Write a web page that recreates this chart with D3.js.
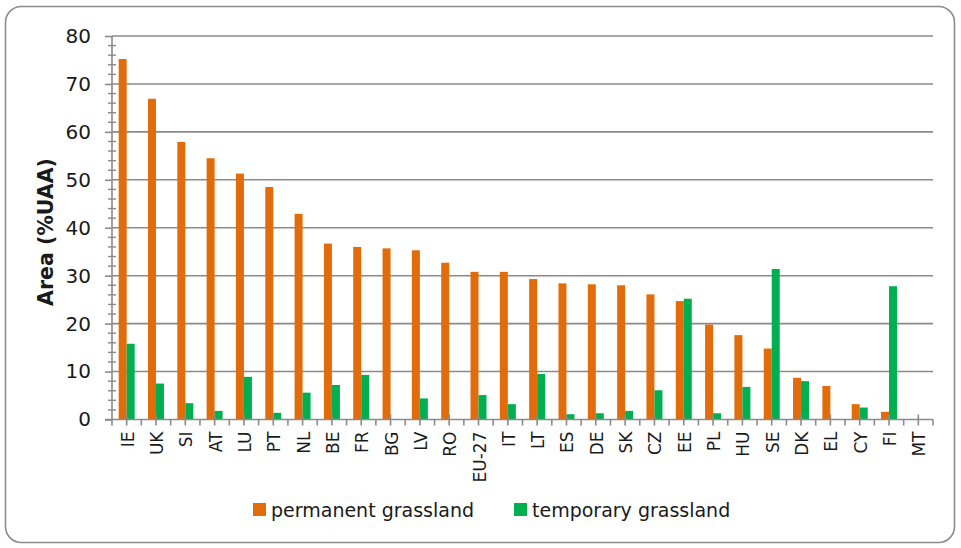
<!DOCTYPE html>
<html>
<head>
<meta charset="utf-8">
<script src="https://d3js.org/d3.v7.min.js"></script>
<style>
  body { margin: 0; background: #fff; }
  text { font-family: "DejaVu Sans", "Open Sans", sans-serif; fill: #1a1a1a; }
</style>
</head>
<body>
<div id="chart"></div>
<script>
// grassland area share per member state
var countries = ["IE","UK","SI","AT","LU","PT","NL","BE","FR","BG","LV","RO","EU-27","IT",
                 "LT","ES","DE","SK","CZ","EE","PL","HU","SE","DK","EL","CY","FI","MT"];
var permanent = [75.2,66.9,57.9,54.5,51.3,48.5,42.9,36.7,36.0,35.7,35.3,32.7,30.8,30.8,
                 29.3,28.4,28.2,28.0,26.1,24.7,19.8,17.6,14.8,8.7,7.0,3.2,1.6,0];
var temporary = [15.8,7.5,3.4,1.8,8.9,1.4,5.6,7.2,9.3,0,4.4,0,5.1,3.2,
                 9.5,1.1,1.3,1.8,6.1,25.2,1.3,6.8,31.4,8.0,0,2.5,27.8,0];
var seriesNames = ["permanent grassland", "temporary grassland"];
var yTicks = [0,10,20,30,40,50,60,70,80];

var W = 961, H = 548;
var margin = {top: 36, right: 28, bottom: 128.5, left: 112};
var width = W - margin.left - margin.right,
    height = H - margin.top - margin.bottom;
var colors = ["#E36C0A", "#00B050"];
var gridColor = "#8a8a8a";

var svg = d3.select("#chart").append("svg")
  .attr("width", W).attr("height", H);

// outer frame
svg.append("rect")
  .attr("x", 5.5).attr("y", 6.5).attr("width", 949).attr("height", 536)
  .attr("rx", 16).attr("ry", 16)
  .attr("fill", "none").attr("stroke", "#8c8c8c").attr("stroke-width", 1.6);

var g = svg.append("g")
  .attr("transform", "translate(" + margin.left + "," + margin.top + ")");

var x = d3.scaleBand().domain(countries).range([0, width]);
var y = d3.scaleLinear().domain([0, 80]).range([height, 0]);

// gridlines
g.selectAll(".grid").data(yTicks.slice(1)).enter().append("line")
  .attr("x1", 0).attr("x2", width)
  .attr("y1", function(d) { return y(d); }).attr("y2", function(d) { return y(d); })
  .attr("stroke", gridColor).attr("stroke-width", 1.6);

// y axis with major + minor ticks
var yAxis = g.append("g")
  .call(d3.axisLeft(y).tickValues(yTicks).tickSize(7).tickPadding(14));
yAxis.select(".domain").remove();
yAxis.selectAll(".tick line").attr("stroke", gridColor).attr("stroke-width", 1.6);
yAxis.selectAll(".tick text").style("font-size", "20px")
  .style("font-family", "DejaVu Sans, sans-serif").attr("fill", "#1a1a1a");

var minor = d3.range(0, 81, 2).filter(function(d) { return d % 10 !== 0; });
g.selectAll(".ymin").data(minor).enter().append("line")
  .attr("x1", -4).attr("x2", 4)
  .attr("y1", function(d) { return y(d); }).attr("y2", function(d) { return y(d); })
  .attr("stroke", gridColor).attr("stroke-width", 1.4);

g.append("line").attr("x1", 0).attr("x2", 0).attr("y1", 0).attr("y2", height)
  .attr("stroke", gridColor).attr("stroke-width", 1.6);

// bars
var barW = 8;
var groups = g.selectAll(".cat").data(countries).enter().append("g")
  .attr("transform", function(d) { return "translate(" + (x(d) + x.bandwidth() / 2) + ",0)"; });

groups.append("rect")
  .attr("x", -barW)
  .attr("width", barW)
  .attr("y", function(d, i) { return y(permanent[i]); })
  .attr("height", function(d, i) { return height - y(permanent[i]); })
  .attr("fill", colors[0]);

groups.append("rect")
  .attr("x", 0)
  .attr("width", barW)
  .attr("y", function(d, i) { return y(temporary[i]); })
  .attr("height", function(d, i) { return height - y(temporary[i]); })
  .attr("fill", colors[1]);

// x axis
g.append("line").attr("x1", -7).attr("x2", width).attr("y1", height).attr("y2", height)
  .attr("stroke", gridColor).attr("stroke-width", 1.6);

var bounds = countries.map(function(d) { return x(d); }).concat([width]);
g.selectAll(".xb").data(bounds).enter().append("line")
  .attr("x1", function(d) { return d; }).attr("x2", function(d) { return d; })
  .attr("y1", height).attr("y2", height + 6)
  .attr("stroke", gridColor).attr("stroke-width", 1.6);
g.selectAll(".xc").data(countries).enter().append("line")
  .attr("x1", function(d) { return x(d) + x.bandwidth() / 2; })
  .attr("x2", function(d) { return x(d) + x.bandwidth() / 2; })
  .attr("y1", height - 5).attr("y2", height + 6)
  .attr("stroke", gridColor).attr("stroke-width", 1.6);

g.selectAll(".xl").data(countries).enter().append("text")
  .attr("transform", function(d) {
    return "translate(" + (x(d) + x.bandwidth() / 2 + 7) + "," + (height + 12) + ") rotate(-90)";
  })
  .attr("text-anchor", "end")
  .style("font-size", "17px")
  .text(function(d) { return d; });

// y axis title
svg.append("text")
  .attr("transform", "translate(53," + 232 + ") rotate(-90)")
  .attr("text-anchor", "middle")
  .style("font-size", "20.5px").style("font-weight", "bold")
  .text("Area (%UAA)");

// legend
var legendX = [253, 514];
var legend = svg.selectAll(".leg").data(seriesNames).enter().append("g")
  .attr("transform", function(d, i) { return "translate(" + legendX[i] + ",503)"; });
legend.append("rect").attr("width", 13).attr("height", 13)
  .attr("fill", function(d, i) { return colors[i]; });
legend.append("text").attr("x", 18).attr("y", 14)
  .style("font-size", "19px")
  .text(function(d) { return d; });
</script>
</body>
</html>
